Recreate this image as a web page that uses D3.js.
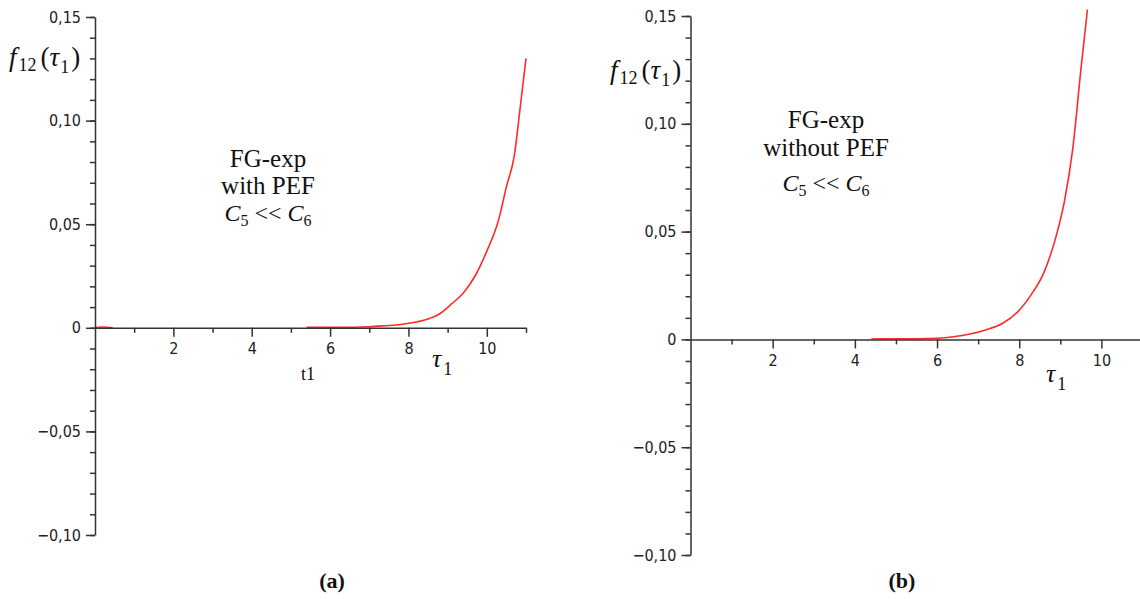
<!DOCTYPE html>
<html>
<head>
<meta charset="utf-8">
<script src="https://cdn.jsdelivr.net/npm/d3@7"></script>
<style>
  html, body { margin: 0; padding: 0; background: #fff; }
  svg { display: block; }
  .tick text { font-family: "DejaVu Sans Condensed", "DejaVu Sans", sans-serif; font-stretch: condensed; font-size: 16px; fill: #222; }
  .serif { font-family: "Liberation Serif", "Times New Roman", serif; fill: #111; }
</style>
</head>
<body>
<svg id="chart" width="1140" height="599"></svg>
<script>
// ---- data ----
const yTickValues = [0.15, 0.10, 0.05, 0, -0.05, -0.10];
const yTickLabels = ["0,15", "0,10", "0,05", "0", "\u22120,05", "\u22120,10"];
const xTickValues = [2, 4, 6, 8, 10];
const xTickLabels = ["2", "4", "6", "8", "10"];
const xMinorValues = [1, 3, 5, 7, 9, 11];

// panel (a): FG-exp with PEF
const leftT0 = [0, 0.15, 0.3, 0.45];
const leftF0 = [0.0001, 0.0004, 0.0003, 0.0];
const leftT = [5.4, 5.8, 6.2, 6.6, 7.0, 7.4, 7.8, 8.2, 8.5, 8.8, 9.1, 9.4, 9.7, 10.0, 10.3, 10.5, 10.7, 10.85, 11.0];
const leftF = [0.0002, 0.0003, 0.0003, 0.0003, 0.0005, 0.001, 0.0016, 0.0028, 0.0042, 0.0068, 0.0115, 0.0168, 0.025, 0.037, 0.052, 0.068, 0.083, 0.106, 0.130];

// panel (b): FG-exp without PEF
const rightT = [4.4, 5.0, 5.5, 6.0, 6.4, 6.8, 7.2, 7.6, 8.0, 8.3, 8.6, 8.9, 9.1, 9.3, 9.5, 9.66];
const rightF = [0.0002, 0.0003, 0.0003, 0.0005, 0.0012, 0.0025, 0.0045, 0.0075, 0.0135, 0.021, 0.031, 0.048, 0.064, 0.088, 0.125, 0.153];

const svg = d3.select("#chart");
const yMinor = d3.range(-10, 16).map(d => d / 100);

function panel(cfg) {
  const x = d3.scaleLinear().domain([0, 11]).range(cfg.xr);
  const y = d3.scaleLinear().domain([-0.10, 0.15]).range(cfg.yr);
  const g = svg.append("g");

  // curves
  const line = d3.line().x(d => x(d[0])).y(d => y(d[1])).curve(d3.curveMonotoneX);
  cfg.series.forEach(s => {
    g.append("path")
      .datum(s[0].map((t, i) => [t, s[1][i]]))
      .attr("d", line)
      .attr("fill", "none")
      .attr("stroke", "#ff2a2a")
      .attr("stroke-width", 1.6);
  });

  // y axis minor
  g.append("g").attr("transform", `translate(${x(0)},0)`)
    .call(d3.axisLeft(y).tickValues(yMinor).tickSize(5).tickFormat(""))
    .call(a => a.select(".domain").remove())
    .call(a => a.selectAll("line").attr("stroke", "#333").attr("stroke-width", 1.5));
  // y axis major
  g.append("g").attr("transform", `translate(${x(0)},0)`)
    .call(d3.axisLeft(y).tickValues(yTickValues).tickSize(9).tickSizeOuter(0).tickPadding(5)
      .tickFormat((d, i) => yTickLabels[i]))
    .call(a => a.select(".domain").attr("stroke", "#333").attr("stroke-width", 1.5))
    .call(a => a.selectAll("line").attr("stroke", "#333").attr("stroke-width", 1.5));

  // x axis minor
  g.append("g").attr("transform", `translate(0,${y(0)})`)
    .call(d3.axisBottom(x).tickValues(xMinorValues).tickSize(5).tickFormat(""))
    .call(a => a.select(".domain").remove())
    .call(a => a.selectAll("line").attr("stroke", "#333").attr("stroke-width", 1.5));
  // x axis major
  g.append("g").attr("transform", `translate(0,${y(0)})`)
    .call(d3.axisBottom(x).tickValues(xTickValues).tickSize(9).tickSizeOuter(0).tickPadding(6)
      .tickFormat((d, i) => xTickLabels[i]))
    .call(a => a.select(".domain").attr("stroke", "#333").attr("stroke-width", 1.5))
    .call(a => a.selectAll("line").attr("stroke", "#333").attr("stroke-width", 1.5));

  // y label f12(tau1)
  const fl = g.append("text").attr("class", "serif").attr("x", cfg.fLab[0]).attr("y", cfg.fLab[1]).attr("font-size", 27);
  fl.append("tspan").attr("font-style", "italic").text("f");
  fl.append("tspan").attr("font-size", 18).attr("dy", 5).attr("dx", 2).text("12");
  fl.append("tspan").attr("dy", -5).attr("dx", 4).text("(");
  fl.append("tspan").attr("font-style", "italic").text("\u03C4");
  fl.append("tspan").attr("font-size", 18).attr("dy", 7).attr("dx", 1).text("1");
  fl.append("tspan").attr("dy", -7).attr("dx", 2).text(")");

  // x label tau1
  const tl = g.append("text").attr("class", "serif").attr("x", cfg.tLab[0]).attr("y", cfg.tLab[1]).attr("font-size", 26);
  tl.append("tspan").attr("font-style", "italic").text("\u03C4");
  tl.append("tspan").attr("font-size", 18).attr("dy", 8).attr("dx", 2).text("1");

  // annotation text
  cfg.lines.forEach((t, i) => {
    g.append("text").attr("class", "serif").attr("x", cfg.cx).attr("y", cfg.ly[i])
      .attr("text-anchor", "middle").attr("font-size", 25).text(t);
  });
  const c = g.append("text").attr("class", "serif").attr("x", cfg.cx).attr("y", cfg.ly[cfg.lines.length])
    .attr("text-anchor", "middle").attr("font-size", 24);
  c.append("tspan").attr("font-style", "italic").text("C");
  c.append("tspan").attr("font-size", 16).attr("dy", 5).text("5");
  c.append("tspan").attr("dy", -5).text(" << ");
  c.append("tspan").attr("font-style", "italic").text("C");
  c.append("tspan").attr("font-size", 16).attr("dy", 5).text("6");

  // panel letter
  g.append("text").attr("class", "serif").attr("x", cfg.letter[0]).attr("y", cfg.letter[1])
    .attr("text-anchor", "middle").attr("font-size", 22).attr("font-weight", "bold").text(cfg.letter[2]);
  return {x, y, g};
}

const A = panel({
  xr: [95, 526], yr: [535, 17],
  series: [[leftT0, leftF0], [leftT, leftF]],
  fLab: [9, 66], tLab: [432, 367],
  lines: ["FG-exp", "with PEF"], cx: 268, ly: [167, 194, 221],
  letter: [332, 588, "(a)"]
});
// extra "t1" label on panel (a)
A.g.append("text").attr("class", "serif").attr("x", 308).attr("y", 380)
  .attr("text-anchor", "middle").attr("font-size", 18).text("t1");

panel({
  xr: [690.5, 1142.5], yr: [555, 16],
  series: [[rightT, rightF]],
  fLab: [610, 79], tLab: [1046, 382],
  lines: ["FG-exp", "without PEF"], cx: 826, ly: [128, 156, 191],
  letter: [902, 588, "(b)"]
});
</script>
</body>
</html>
